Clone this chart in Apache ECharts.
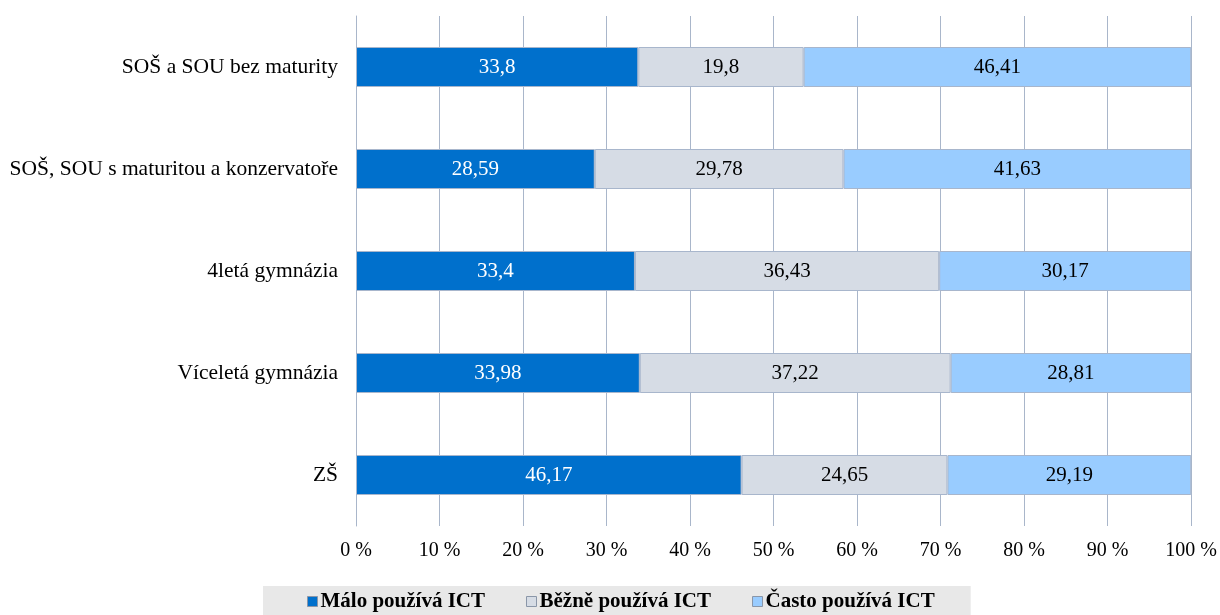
<!DOCTYPE html>
<html>
<head>
    <meta charset="utf-8">
    <title>ICT</title>
    <script src="https://cdn.jsdelivr.net/npm/echarts@6/dist/echarts.min.js"></script>
    <style>
        body { margin: 0; background: #fff; }
        #chart { width: 1220px; height: 615px; }
    </style>
</head>
<body>
    <div id="chart"></div>
    <script>
        // kategorie zdola nahoru (osa y v ECharts jde od spodu)
        var categories = ['ZŠ', 'Víceletá gymnázia', '4letá gymnázia', 'SOŠ, SOU s maturitou a konzervatoře', 'SOŠ a SOU bez maturity'];
        var seriesNames = ['Málo používá ICT', 'Běžně používá ICT', 'Často používá ICT'];
        var malo = [46.17, 33.98, 33.4, 28.59, 33.8];
        var bezne = [24.65, 37.22, 36.43, 29.78, 19.8];
        var casto = [29.19, 28.81, 30.17, 41.63, 46.41];
        var xTicks = [0, 10, 20, 30, 40, 50, 60, 70, 80, 90, 100];

        var colors = ['#0070cc', '#d6dce5', '#99ccff'];
        var labelColors = ['#ffffff', '#000000', '#000000'];
        var font = 'Liberation Serif, Times New Roman, serif';

        var chart = echarts.init(document.getElementById('chart'));

        var series = [malo, bezne, casto].map(function (data, i) {
            return {
                name: seriesNames[i],
                type: 'bar',
                stack: 'total',
                barWidth: 40,
                data: data,
                itemStyle: { color: colors[i], borderColor: '#a8b6cc', borderWidth: 1 },
                label: {
                    show: true,
                    position: 'inside',
                    color: labelColors[i],
                    fontFamily: font,
                    fontSize: 21,
                    formatter: function (p) { return String(p.value).replace('.', ','); }
                }
            };
        });

        chart.setOption({
            animation: false,
            color: colors,
            textStyle: { fontFamily: font },
            grid: { left: 356, right: 28, top: 16, bottom: 89, containLabel: false },
            xAxis: {
                type: 'value',
                min: xTicks[0],
                max: xTicks[xTicks.length - 1],
                interval: 10,
                axisLine: { show: false },
                axisTick: { show: false },
                splitLine: { show: true, lineStyle: { color: '#a9b6ca', width: 1 } },
                axisLabel: {
                    color: '#000',
                    fontFamily: font,
                    fontSize: 20,
                    margin: 15,
                    formatter: function (v) { return v + ' %'; }
                }
            },
            yAxis: {
                type: 'category',
                data: categories,
                axisLine: { show: true, lineStyle: { color: '#a9b6ca' } },
                axisTick: { show: false },
                axisLabel: { color: '#000', fontFamily: font, fontSize: 21.5, margin: 18 }
            },
            legend: {
                bottom: -2,
                left: 263,
                itemGap: 41,
                itemWidth: 10,
                itemHeight: 10,
                icon: 'rect',
                backgroundColor: '#e8e8e8',
                padding: [5, 36, 5, 44],
                textStyle: { fontFamily: font, fontSize: 21, fontWeight: 'bold', color: '#000', padding: [0, 0, 0, -2] },
                itemStyle: { borderColor: '#8a96a8', borderWidth: 1 },
                data: seriesNames
            },
            series: series
        });
    </script>
</body>
</html>
